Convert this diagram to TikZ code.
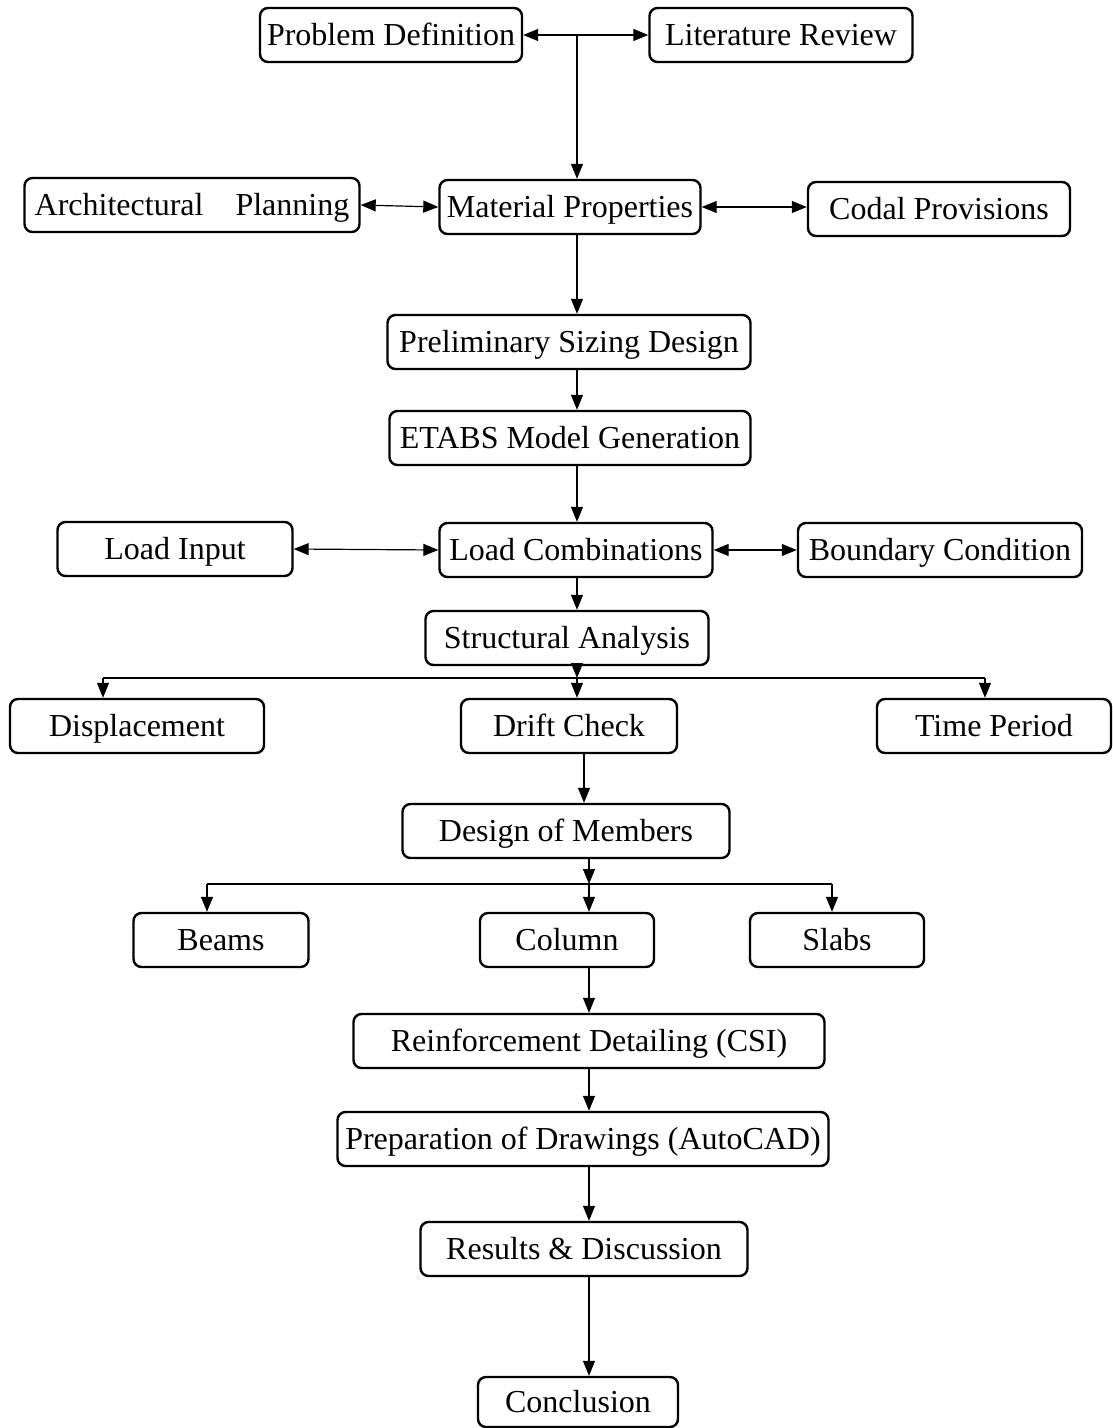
\documentclass[tikz,border=0pt]{standalone}
\usepackage{fontspec}
\setmainfont{Liberation Serif}
\usetikzlibrary{arrows.meta}

\begin{document}
\begin{tikzpicture}[x=1pt, y=-1pt, >={Triangle[length=15pt,width=12pt]},
  box/.style={draw, rounded corners=8pt, line width=2.4pt, inner sep=0pt,
    minimum height=54pt, text height=25pt, text depth=5pt,
    font=\fontsize{32}{38}\selectfont},
  link/.style={line width=1.2pt}]
  \useasboundingbox (0,0) rectangle (1113,1428);
  % Start
  \node[box, minimum width=262] (pd) at (391,35) {Problem Definition};
  \node[box, minimum width=263] (lr) at (781,35) {Literature Review};
  % Inputs
  \node[box, minimum width=335] (ap) at (192,205) {Architectural\hspace{0.75em} Planning};
  \node[box, minimum width=261] (mp) at (570,207) {Material Properties};
  \node[box, minimum width=262] (cp) at (939,209) {Codal Provisions};
  \node[box, minimum width=363] (psd) at (569,342) {Preliminary Sizing Design};
  \node[box, minimum width=361] (etabs) at (570,438) {ETABS Model Generation};
  % Loads
  \node[box, minimum width=235] (li) at (175,549) {Load Input};
  \node[box, minimum width=273] (lc) at (576,550) {Load Combinations};
  \node[box, minimum width=284] (bc) at (940,550) {Boundary Condition};
  % Analysis
  \node[box, minimum width=283] (sa) at (567,638) {Structural Analysis};
  \node[box, minimum width=254] (disp) at (137,726) {Displacement};
  \node[box, minimum width=216] (dc) at (569,726) {Drift Check};
  \node[box, minimum width=234] (tp) at (994,726) {Time Period};
  % Design
  \node[box, minimum width=327] (dom) at (566,831) {Design of Members};
  \node[box, minimum width=175] (beams) at (221,940) {Beams};
  \node[box, minimum width=174] (col) at (567,940) {Column};
  \node[box, minimum width=174] (slabs) at (837,940) {Slabs};
  % Output
  \node[box, minimum width=471] (rd) at (589,1041) {Reinforcement Detailing (CSI)};
  \node[box, minimum width=491] (pod) at (583,1139) {Preparation of Drawings (AutoCAD)};
  \node[box, minimum width=327] (rnd) at (584,1249) {Results \& Discussion};
  \node[box, minimum width=200, minimum height=50] (con) at (578,1402) {Conclusion};

  % Links
  \coordinate (t1) at (577,35);
  \coordinate (x1) at (577,0);
  \coordinate (x2) at (584,0);
  \coordinate (x3) at (589,0);
  \draw[link, <->] (pd.east) -- (lr.west);
  \draw[link, ->] (t1) -- (t1 |- mp.north);
  \draw[link, <->] (ap.east) -- (mp.west);
  \draw[link, <->] (mp.east) -- (cp.west |- mp.east);
  \draw[link, ->] (mp.south -| x1) -- (psd.north -| x1);
  \draw[link, ->] (psd.south -| x1) -- (etabs.north -| x1);
  \draw[link, ->] (etabs.south -| x1) -- (lc.north -| x1);
  \draw[link, <->] (li.east) -- (lc.west);
  \draw[link, <->] (lc.east) -- (bc.west);
  \draw[link, ->] (lc.south -| x1) -- (sa.north -| x1);
  % Analysis branch
  \coordinate (b1) at (577,678);
  \coordinate (b1l) at (103,678);
  \coordinate (b1r) at (985,678);
  \draw[link, ->] (sa.south -| b1) -- (b1);
  \draw[link] (b1l) -- (b1r);
  \draw[link, ->] (b1l) -- (b1l |- disp.north);
  \draw[link, ->] (b1) -- (b1 |- dc.north);
  \draw[link, ->] (b1r) -- (b1r |- tp.north);
  \draw[link, ->] (dc.south -| x2) -- (dom.north -| x2);
  % Design branch
  \coordinate (b2) at (589,884);
  \coordinate (b2l) at (207,884);
  \coordinate (b2r) at (832,884);
  \draw[link, ->] (dom.south -| b2) -- (b2);
  \draw[link] (b2l) -- (b2r);
  \draw[link, ->] (b2l) -- (b2l |- beams.north);
  \draw[link, ->] (b2) -- (b2 |- col.north);
  \draw[link, ->] (b2r) -- (b2r |- slabs.north);
  \draw[link, ->] (col.south -| x3) -- (rd.north -| x3);
  \draw[link, ->] (rd.south -| x3) -- (pod.north -| x3);
  \draw[link, ->] (pod.south -| x3) -- (rnd.north -| x3);
  \draw[link, ->] (rnd.south -| x3) -- (con.north -| x3);
\end{tikzpicture}
\end{document}
